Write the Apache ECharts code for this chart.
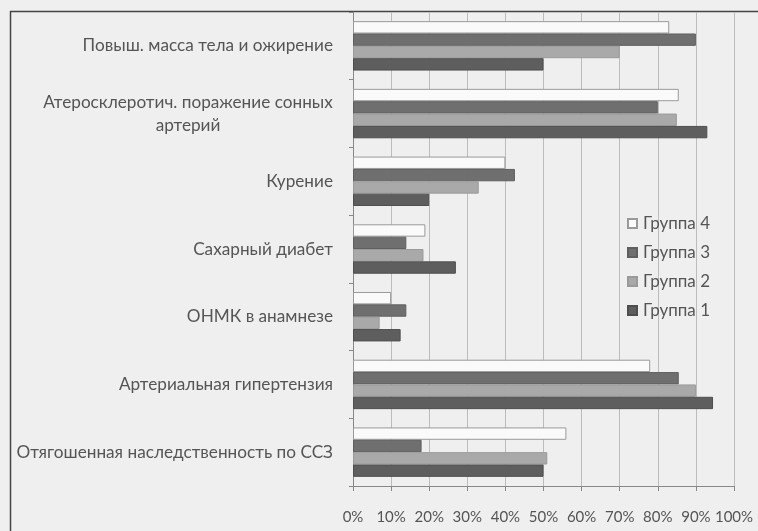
<!DOCTYPE html>
<html><head><meta charset="utf-8">
<script src="https://cdn.jsdelivr.net/npm/echarts@6/dist/echarts.min.js"></script>
<style>html,body{margin:0;padding:0;background:#efefef}#c{width:758px;height:531px}</style>
</head><body><div id="c"></div>
<script>
// categories bottom-to-top
const categories = [
  'Отягошенная наследственность по ССЗ',
  'Артериальная гипертензия',
  'ОНМК в анамнезе',
  'Сахарный диабет',
  'Курение',
  'Атеросклеротич. поражение сонных\nартерий',
  'Повыш. масса тела и ожирение'
];
const group1 = [50, 94.5, 12.5, 27, 20, 93, 50];
const group2 = [51, 90, 7, 18.5, 33, 85, 70];
const group3 = [18, 85.5, 14, 14, 42.5, 80, 90];
const group4 = [56, 78, 10, 19, 40, 85.5, 83];
const xTicks = [0, 10, 20, 30, 40, 50, 60, 70, 80, 90, 100];

const font = 'Lato, "Open Sans", sans-serif';
// top-to-bottom within a category: Группа 4, 3, 2, 1
const seriesList = [
  {name: 'Группа 4', data: group4, color: '#fafafa', border: '#9a9a9a'},
  {name: 'Группа 3', data: group3, color: '#6f6f6f', border: '#5f5f5f'},
  {name: 'Группа 2', data: group2, color: '#a9a9a9', border: '#9a9a9a'},
  {name: 'Группа 1', data: group1, color: '#5e5e5e', border: '#4e4e4e'}
];

const chart = echarts.init(document.getElementById('c'));
chart.setOption({
  backgroundColor: '#efefef',
  animation: false,
  textStyle: {fontFamily: font},
  grid: {left: 353, right: 24, top: 12, bottom: 45, containLabel: false},
  legend: {
    orient: 'vertical',
    left: 622, top: 210,
    itemWidth: 9, itemHeight: 9, itemGap: 12,
    data: ['Группа 4', 'Группа 3', 'Группа 2', 'Группа 1'],
    textStyle: {fontFamily: font, fontSize: 17, color: '#555', padding: [0, 0, 0, 1]},
    icon: 'rect'
  },
  graphic: [
    {type: 'line', shape: {x1: 10.5, y1: 11, x2: 10.5, y2: 531}, style: {stroke: '#444', lineWidth: 1.5}},
    {type: 'line', shape: {x1: 10, y1: 11.5, x2: 758, y2: 11.5}, style: {stroke: '#444', lineWidth: 1.5}}
  ],
  xAxis: {
    type: 'value', min: 0, max: 100, interval: 10,
    axisLine: {show: true, lineStyle: {color: '#888'}},
    axisTick: {show: true, length: 5, lineStyle: {color: '#888'}},
    splitLine: {show: true, lineStyle: {color: '#bcbcbc'}},
    axisLabel: {
      fontFamily: font, fontSize: 15, color: '#555', margin: 24,
      formatter: v => xTicks.includes(v) ? v + '%' : ''
    }
  },
  yAxis: {
    type: 'category', data: categories,
    axisLine: {show: true, lineStyle: {color: '#888'}},
    axisTick: {show: true, length: 4, lineStyle: {color: '#888'}},
    axisLabel: {
      fontFamily: font, fontSize: 17.2, color: '#555', margin: 20, lineHeight: 23,
      formatter: v => v.includes('\n') ? v.split('\n').map(s => '{c|' + s + '}').join('\n') : v,
      rich: {c: {width: 290, align: 'center', fontFamily: font, fontSize: 17.2, color: '#555', lineHeight: 23}}
    }
  },
  series: seriesList.map(s => ({
    name: s.name, type: 'bar', data: s.data,
    barGap: '0%', barCategoryGap: '27%',
    itemStyle: {color: s.color, borderColor: s.border, borderWidth: 1}
  }))
});
</script></body></html>
